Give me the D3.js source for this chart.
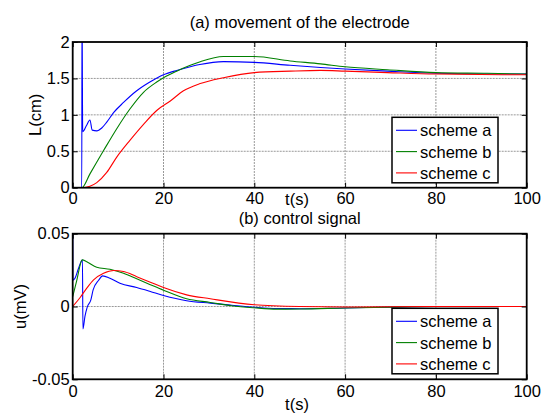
<!DOCTYPE html>
<html>
<head>
<meta charset="utf-8">
<script src="https://cdn.jsdelivr.net/npm/d3@7"></script>
<style>
  body { margin: 0; background: #fff; }
  svg text { font-family: "Liberation Sans", Arial, Helvetica, sans-serif; fill: #000; }
</style>
</head>
<body>
<div id="chart-container"></div>
<script>
// Series names and colors
const schemes = ["scheme a", "scheme b", "scheme c"];
const colors = ["#0000ff", "#008000", "#ff0000"];

// Tick labels
const xTicks = [0, 20, 40, 60, 80, 100];
const lTicks = [0, 0.5, 1, 1.5, 2];
const uTicks = [-0.05, 0, 0.05];

// (a) movement of the electrode, L(cm)
const tLa = [0, 2, 2.05, 2.2, 3.0, 3.8, 4.3, 5.3, 6.4, 7.5, 9, 11.2, 14.1, 17, 20, 22.9, 25.9, 28, 33.2, 40, 47.9, 54.6, 60, 69.3, 80, 91.3, 100];
const La  = [0, 0, 2.6, 0.77, 0.85, 0.93, 0.79, 0.78, 0.82, 0.90, 1.03, 1.17, 1.33, 1.45, 1.55, 1.61, 1.66, 1.69, 1.73, 1.72, 1.68, 1.65, 1.63, 1.60, 1.57, 1.56, 1.56];
const tLb = [0, 2, 3.8, 6.8, 9.7, 12.6, 15.6, 18.5, 20, 22.9, 25.9, 28.1, 33.2, 40, 47.9, 54.6, 60, 69.3, 80, 91.3, 100];
const Lb  = [0, 0, 0.19, 0.51, 0.81, 1.08, 1.31, 1.45, 1.51, 1.60, 1.68, 1.73, 1.80, 1.80, 1.74, 1.70, 1.66, 1.62, 1.58, 1.57, 1.56];
const tLc = [0, 2, 3.8, 5.3, 7.5, 9.7, 12.6, 15.6, 18.5, 21.5, 24.4, 28.1, 33.2, 40, 47.9, 54.6, 60, 69.3, 80, 100];
const Lc  = [0, 0, 0.02, 0.07, 0.21, 0.42, 0.65, 0.87, 1.06, 1.19, 1.33, 1.43, 1.51, 1.58, 1.60, 1.61, 1.60, 1.58, 1.56, 1.55];

// (b) control signal, u(mV)
const tUa = [0, 0.05, 0.5, 1.25, 2.15, 2.25, 2.7, 3.2, 4.0, 4.5, 5.7, 6.6, 8.2, 10.4, 14.1, 17.1, 20, 25.1, 30.3, 35, 40, 45, 50, 60, 70, 80, 100];
const Ua  = [0.06, 0.018, 0.0194, 0.0259, 0.032, -0.0155, -0.0068, -0.0004, 0.0046, 0.0114, 0.018, 0.021, 0.0194, 0.016, 0.013, 0.0103, 0.0076, 0.004, 0.0023, 0.0009, -0.0005, -0.0014, -0.0015, -0.001, -0.0004, 0, 0];
const tUb = [0, 0.9, 2.1, 3.1, 5.3, 8.2, 11.2, 14.1, 17.1, 20, 25.1, 30.3, 35, 40, 45, 50, 60, 70, 80, 100];
const Ub  = [0.0068, 0.018, 0.032, 0.0307, 0.027, 0.0256, 0.0228, 0.019, 0.015, 0.0112, 0.0053, 0.0028, 0.0005, -0.0009, -0.0018, -0.0017, -0.001, -0.0004, 0, 0];
const tUc = [0, 1.6, 3.1, 4.6, 6.8, 9.0, 11.2, 14.1, 17.1, 20, 25.1, 30.3, 40, 50, 60, 80, 100];
const Uc  = [0, 0.0060, 0.0126, 0.0183, 0.0228, 0.0247, 0.024, 0.0205, 0.0167, 0.013, 0.008, 0.0053, 0.0012, 0, -0.0003, 0, 0];

const width = 542;
const height = 415;
const fontSize = 16.5;

const svg = d3
    .select("#chart-container")
    .append("svg")
    .attr("width", width)
    .attr("height", height);

function zip(t, v) {
    return t.map((d, i) => [d, v[i]]);
}

function drawPanel(opts) {
    const { id, top, bottom, yDomain, yTicks, title, titleY, yLabel, yLabelX, tLabelY, tickPad, series, legendTop } = opts;
    const left = 72.7, right = 526.7;

    const x = d3.scaleLinear().domain([0, 100]).range([left, right]);
    const y = d3.scaleLinear().domain(yDomain).range([bottom, top]);

    const g = svg.append("g");

    // clip for the curves
    svg.append("clipPath").attr("id", id)
        .append("rect")
        .attr("x", left).attr("y", top)
        .attr("width", right - left).attr("height", bottom - top);

    // grid
    g.selectAll(".gx")
        .data(xTicks.slice(1, -1))
        .enter()
        .append("line")
        .attr("x1", (d) => x(d)).attr("x2", (d) => x(d))
        .attr("y1", top).attr("y2", bottom)
        .attr("stroke", "#999").attr("stroke-width", 1)
        .attr("stroke-dasharray", "2,1");
    g.selectAll(".gy")
        .data(yTicks.slice(1, -1))
        .enter()
        .append("line")
        .attr("x1", left).attr("x2", right)
        .attr("y1", (d) => y(d)).attr("y2", (d) => y(d))
        .attr("stroke", "#999").attr("stroke-width", 1)
        .attr("stroke-dasharray", "2,1");

    // curves
    const line = d3.line()
        .x((d) => x(d[0]))
        .y((d) => y(d[1]))
        .curve(d3.curveMonotoneX);
    series.forEach((s, i) => {
        g.append("path")
            .datum(s)
            .attr("clip-path", `url(#${id})`)
            .attr("fill", "none")
            .attr("stroke", colors[i])
            .attr("stroke-width", 1.1)
            .attr("d", line);
    });

    // axes (inward ticks, MATLAB style)
    const fmt = (d) => String(d);
    const xb = g.append("g")
        .attr("transform", `translate(0, ${bottom})`)
        .call(d3.axisBottom(x).tickValues(xTicks).tickSize(-5).tickPadding(tickPad).tickFormat(fmt));
    const xt = g.append("g")
        .attr("transform", `translate(0, ${top})`)
        .call(d3.axisTop(x).tickValues(xTicks).tickSize(-5).tickFormat(""));
    const yl = g.append("g")
        .attr("transform", `translate(${left}, 0)`)
        .call(d3.axisLeft(y).tickValues(yTicks).tickSize(-5).tickPadding(3).tickFormat(fmt));
    const yr = g.append("g")
        .attr("transform", `translate(${right}, 0)`)
        .call(d3.axisRight(y).tickValues(yTicks).tickSize(-5).tickFormat(""));
    [xb, xt, yl, yr].forEach((a) => {
        a.select(".domain").remove();
        a.selectAll("line").attr("stroke", "#000");
        a.selectAll("text")
            .style("font-size", fontSize + "px")
            .style("font-family", "'Liberation Sans', Arial, sans-serif")
            .attr("fill", "#000");
    });

    // frame
    g.append("rect")
        .attr("x", left).attr("y", top)
        .attr("width", right - left).attr("height", bottom - top)
        .attr("fill", "none")
        .attr("stroke", "#000")
        .attr("stroke-width", 1.8);

    // title and labels
    g.append("text")
        .attr("x", (left + right) / 2).attr("y", titleY)
        .attr("text-anchor", "middle")
        .style("font-size", fontSize + "px")
        .text(title);
    g.append("text")
        .attr("x", 297).attr("y", tLabelY)
        .attr("text-anchor", "middle")
        .style("font-size", fontSize + "px")
        .text("t(s)");
    g.append("text")
        .attr("transform", `translate(${yLabelX}, ${(top + bottom) / 2}) rotate(-90)`)
        .attr("text-anchor", "middle")
        .style("font-size", fontSize + "px")
        .text(yLabel);

    // legend
    const lx = 392, lw = 106, lh = 65.5;
    g.append("rect")
        .attr("x", lx).attr("y", legendTop)
        .attr("width", lw).attr("height", lh)
        .attr("fill", "#fff")
        .attr("stroke", "#000")
        .attr("stroke-width", 1.5);
    schemes.forEach((name, i) => {
        const ry = legendTop + 13 + i * 21.3;
        g.append("line")
            .attr("x1", lx + 4).attr("x2", lx + 25)
            .attr("y1", ry).attr("y2", ry)
            .attr("stroke", colors[i])
            .attr("stroke-width", 1.1);
        g.append("text")
            .attr("x", lx + 28).attr("y", ry + 6)
            .style("font-size", fontSize + "px")
            .text(name);
    });
}

drawPanel({
    id: "clipA",
    top: 42, bottom: 187.7,
    yDomain: [0, 2],
    yTicks: lTicks,
    title: "(a) movement of the electrode",
    titleY: 28,
    yLabel: "L(cm)",
    yLabelX: 41,
    tLabelY: 205,
    tickPad: 5,
    series: [zip(tLa, La), zip(tLb, Lb), zip(tLc, Lc)],
    legendTop: 117.3
});

drawPanel({
    id: "clipB",
    top: 233.7, bottom: 379.3,
    yDomain: [-0.05, 0.05],
    yTicks: uTicks,
    title: "(b) control signal",
    titleY: 224,
    yLabel: "u(mV)",
    yLabelX: 26,
    tLabelY: 410,
    tickPad: 6,
    series: [zip(tUa, Ua), zip(tUb, Ub), zip(tUc, Uc)],
    legendTop: 308.3
});
</script>
</body>
</html>
